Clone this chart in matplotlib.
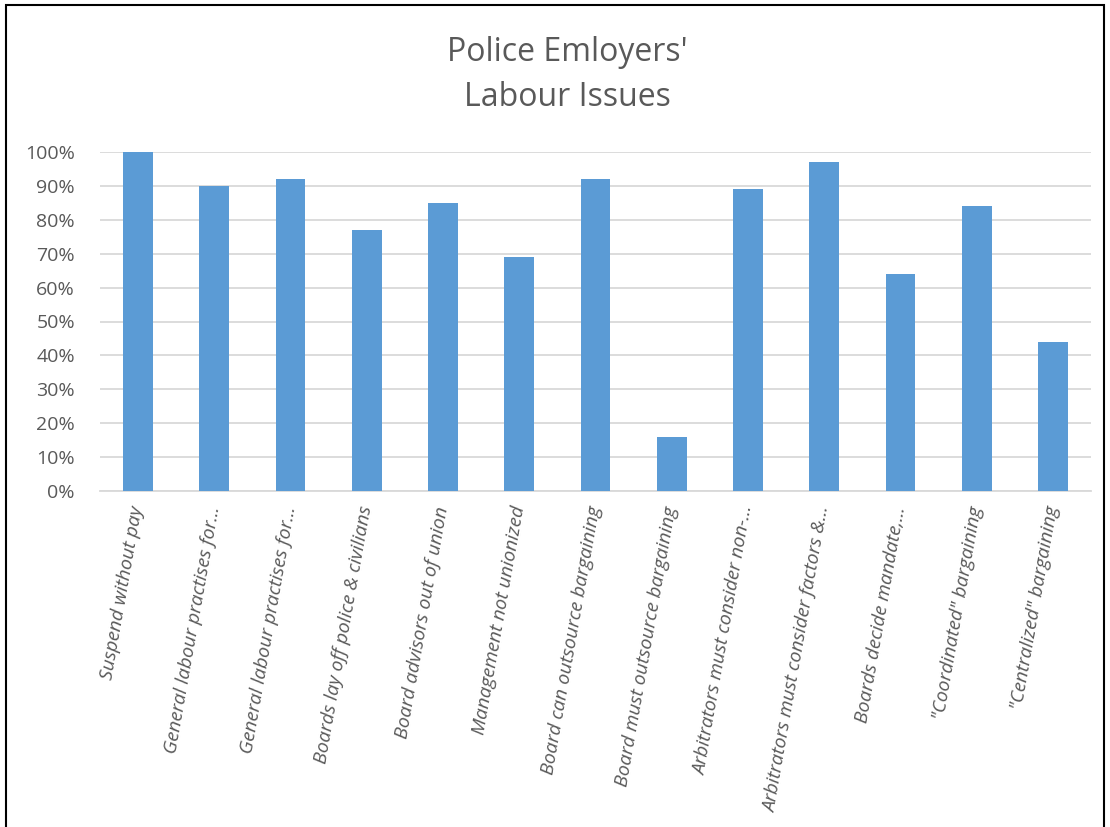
import numpy as np
import matplotlib.pyplot as plt
from matplotlib.ticker import PercentFormatter
from matplotlib.patches import Rectangle

# survey results, share of police employers reporting each issue
categories = [
    "Suspend without pay",
    "General labour practises for...",
    "General labour practises for...",
    "Boards lay off police & civilians",
    "Board advisors out of union",
    "Management not unionized",
    "Board can outsource bargaining",
    "Board must outsource bargaining",
    "Arbitrators must consider non-...",
    "Arbitrators must consider factors &...",
    "Boards decide mandate,...",
    "\"Coordinated\" bargaining",
    "\"Centralized\" bargaining",
]
values = [100, 90, 92, 77, 85, 69, 92, 16, 89, 97, 64, 84, 44]
yticks = [0, 10, 20, 30, 40, 50, 60, 70, 80, 90, 100]

plt.rcParams['font.family'] = ['Open Sans', 'DejaVu Sans']

fig = plt.figure(figsize=(11.1, 8.27), dpi=100)
ax = fig.add_axes([100 / 1110, 1 - 491 / 827, (1091 - 100) / 1110, (491 - 152) / 827])

x = np.arange(len(categories))
ax.bar(x, values, width=0.39, color='#5B9BD5', zorder=3)

ax.set_xlim(-0.5, len(categories) - 0.5)
ax.set_ylim(0, 100)
ax.set_yticks(yticks)
ax.yaxis.set_major_formatter(PercentFormatter(decimals=0))
ax.grid(axis='y', color='#D9D9D9', linewidth=1.3, zorder=0)
for s in ['top', 'right', 'left']:
    ax.spines[s].set_visible(False)
ax.spines['bottom'].set_color('#D9D9D9')
ax.spines['bottom'].set_linewidth(1.3)
ax.tick_params(axis='y', length=0, labelsize=14, labelcolor='#595959', pad=18)
ax.tick_params(axis='x', length=0, pad=11)

ax.set_xticks(x)
ax.set_xticklabels(categories, rotation=80, rotation_mode='anchor',
                   ha='right', va='center', fontsize=13.8, fontstyle='italic',
                   color='#595959')

fig.text(567 / 1110, 1 - 75 / 827, "Police Emloyers'\nLabour Issues", ha='center',
         va='center', fontsize=23, color='#595959', linespacing=1.45)

# outer frame of the chart area
fig.patches.append(Rectangle((6 / 1110, -0.01), 1098 / 1110, 1 - 5 / 827 + 0.01,
                             transform=fig.transFigure, fill=False,
                             edgecolor='black', linewidth=1.5))

fig.savefig('out.png', dpi=100)
